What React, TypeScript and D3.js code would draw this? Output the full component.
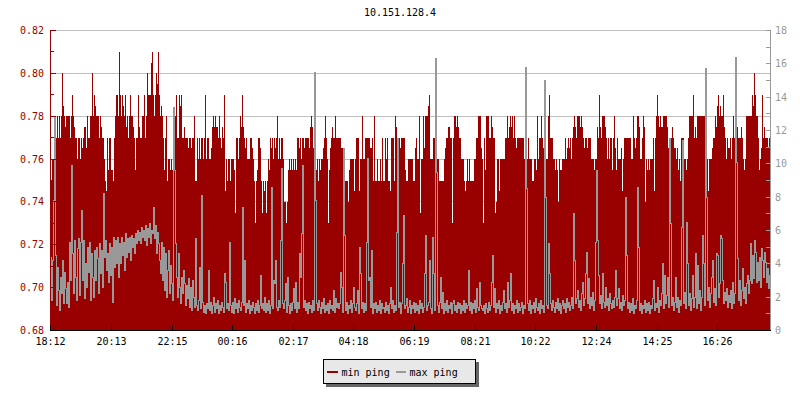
import React from 'react';
import * as d3 from 'd3';

const chartTitle = '10.151.128.4';
const seriesNames = ['min ping', 'max ping'];
const startClock = '18:12';
const stepMinutes = 2;
const xTickLabels = ['18:12', '20:13', '22:15', '00:16', '02:17', '04:18', '06:19', '08:21', '10:22', '12:24', '14:25', '16:26'];
const leftDomain = [0.68, 0.82];
const rightDomain = [0, 18];

// min ping, in hundredths (77 = 0.77), one sample every 2 minutes
const minPingHundredths = [
  75,75,76,76,76.5,76.5,77,78,77,78,77,78,80,78.5,78,77.5,78,78,78,78,
  77,78,79,78,77.5,77,77,76,77,77,76,77,76.5,77,77.5,77.5,76.5,78,77,77,
  78,78,80,78,79,78.5,78,78,78,77,78,77.5,77,77,76,75,74.5,77,75.5,77,
  77,75.5,75.5,75,77,78,79,79,78,81,79,78,79,78.5,78,79,77.5,78,77,78,
  79,78,78,77.5,77,75.5,77,77,79,77.5,77,77,78,78,79,77,78,80,79,79,
  79,80.5,81,79,78,79,80,79.5,81,79,78,78.5,78,77,75.5,77,78,75,76,76,
  75.5,76,75.5,76,77,78,79,77,77,79,78.5,79,77,77,77.5,77,77,77,76.5,77,
  77,76.5,77,77,
  78,75,75,77,76,77,76,77,77,76,77,79,76,77,77,76,76,76.5,77.5,78,
  77.5,78,77.5,77.5,77,78,77,76.5,77.5,77,79,74.5,76,75,76,76,75,76,76,76,
  75.5,73.5,77,77,76,77,78,77.5,79,77.5,77,76.5,77,76,76,76,77,77,76.5,76,
  75,73,75,75.5,77,77,76.5,75,73.5,75,74.5,75,73.5,75,76,75.5,77,76.5,77,76,
  77,76.5,77,78,76,77,76,77,77,76,74,74,73,74,75.5,76,75.5,76,75.5,76,
  75.5,76,75.5,77,77,76.5,77,76,77,77,76.5,77,77,77,77,76.5,77.5,78,77.5,76.5,
  75,75,75.5,76,75,76,75.5,76,76,76.5,77,78,77,76,73,75.5,76.5,77,77.5,77,
  77,78,77,77,
  77,77,77,76.5,76.5,76,76,75,75,75,74,75.5,76,76,76,76,74.5,76,77,77,
  77,74.5,76,76,78,76,76,77,77,77,77,77,76.5,76.5,77,75,78,75,75,76,
  75,75,76,75,77,75,75,77,76,77,75,75,74.5,77,77,77,75,78,77.5,75,
  76.5,77,76.5,77,77,77,77,75.5,75,75,76,76,76,76,76,75,75,76.5,77,76,
  76,78,73.5,76,76,78,76.5,78,78,78,78.5,79,76,76,76,77,77,77,76,76,
  76,75,75,75,75,75,76,76.5,77,77,77.5,77.5,77,77,73,77,78,78,77.5,78,
  77.5,77,77,76,76,76,75,74.5,75,76,75,76,75,75,75,75,76,76,77,77,
  78,78,78,76.5,
  76,73,77,75.5,78,78,78,77,77,78,77.5,77,77,73.5,74,76,76,74.5,76,76,
  76,76,76,77,77,78,77,77.5,78,77.5,78,77,78,77,76.5,77,77,77,77,77,
  77,77,76,77,76,76,77,76,76,76,75,75,76,76,75.5,78,76,77,77,78,
  77,76.5,76,75,76,76,78,79,77,77,77,76,76,75.5,76,75.5,74,76,75.5,75.5,
  76,76,76,77,76,76.5,77,76.5,77,76,77,77.5,78,77.5,77,78,78,78,77.5,78,
  77.5,77,76.5,77,77,76.5,77,77,77,76,76,76,75.5,76,76,77.5,77,79,77.5,77,
  78,78,78,77.5,77,76,77,76,77,77,75.5,77,78,76.5,75.5,77,76,76,76,76.5,
  74.5,76,77,77,
  77,77,77,77,77,76,76,78,77,76.5,77,78,78,77.5,76,76,77,78,77.5,74,
  76,75.5,76,75.5,76,76,76,77,74.5,77,78,79,78,77.5,78,77.5,77.5,78,78,78,
  78,77.5,76.5,75,76,77,77.5,77,76.5,76.5,76,76.5,75.5,76,75,77,77,77,76,76,
  75.5,76,77,78,78,78,78,79,77,77.5,77,78,78,78,78,78,78,78,78,76,
  74.5,76,74.5,76,76,76,76.5,77,77,78,77.5,78.5,79,78,78.5,78,78,79,77.5,77,
  76,77,76.5,76.5,77,76,77,78,77,78,78,77.5,77,77,77,77.5,77,76,75.5,76,
  78,78,78,78,78,78,79,78.5,80,79,78,78,77,75.5,76,76.5,79,77,77.5,77,
  77,77,76.5,77,
];

// max ping, one sample every 2 minutes
const maxPing = [
  4.4,1.8,4.2,7.8,12.8,4.5,1.5,3.8,2.4,1.2,3.2,2.2,4.2,1.6,3.5,2.5,1.6,2.9,1.4,5.3,
  3.0,9.9,4.6,2.2,5.4,3.2,1.8,4.9,5.5,2.1,5.3,7.2,3.0,5.4,1.9,4.0,2.6,5.0,3.5,5.3,
  1.8,4.6,3.2,2.0,4.8,3.0,5.0,4.3,2.2,5.2,3.4,4.8,2.6,8.2,4.4,5.4,3.6,4.6,2.9,5.2,
  3.3,5.0,1.7,5.6,3.8,5.4,4.0,5.6,3.2,5.2,4.0,5.6,4.5,5.3,3.6,5.8,4.4,5.5,4.7,5.6,
  4.2,5.7,5.0,5.5,4.6,5.8,5.2,6.0,5.4,5.9,5.2,6.2,5.6,6.0,5.4,6.3,5.1,6.1,5.6,6.4,
  5.2,6.0,5.8,7.4,5.5,6.3,4.6,5.9,5.2,4.2,3.4,5.3,3.0,5.0,2.4,4.6,2.0,3.6,4.8,2.2,
  3.9,2.8,1.8,13.4,9.6,5.2,3.2,2.0,4.6,2.6,1.6,3.2,2.2,3.6,2.8,1.5,2.7,1.9,3.1,1.4,
  2.6,1.2,3.0,2.0,
  1.4,5.5,1.5,1.2,1.8,3.8,1.3,8.1,1.7,1.1,1.5,1.0,1.6,1.3,3.6,1.2,1.7,1.0,1.5,2.0,
  1.1,1.6,1.3,1.8,1.0,1.5,1.2,1.7,1.4,1.1,3.4,2.9,1.3,1.6,1.2,5.3,1.5,1.1,1.7,1.0,
  1.9,1.3,1.6,1.1,1.8,1.4,1.2,1.7,7.4,1.5,4.2,1.1,1.6,1.3,1.8,1.0,1.5,1.2,1.7,1.4,
  1.0,1.6,1.2,1.8,1.1,1.5,3.3,1.3,1.6,1.2,2.0,1.1,1.6,1.2,1.8,1.0,1.5,8.6,1.3,3.0,
  2.8,4.2,1.4,1.2,1.8,1.4,5.4,9.7,1.6,1.3,1.8,2.8,1.1,3.2,1.5,1.0,1.6,1.2,1.7,2.5,
  1.3,2.9,1.1,1.7,1.3,4.6,3.2,5.8,9.9,1.4,1.8,1.2,1.6,1.0,1.7,1.3,1.5,1.1,1.8,1.2,
  15.5,7.8,1.6,1.2,1.8,1.4,1.0,1.7,1.3,1.9,1.1,1.5,1.2,1.6,1.0,1.8,1.3,1.5,1.2,2.4,
  1.1,1.9,1.4,1.6,
  1.3,1.6,3.5,2.6,1.1,10.9,5.7,1.2,1.7,1.0,1.5,1.3,1.8,1.1,1.6,2.6,1.4,1.2,1.6,2.4,
  1.0,5.0,3.4,1.3,1.7,1.1,1.6,1.2,5.3,10.3,3.0,3.2,1.4,4.8,1.0,1.6,1.3,1.7,1.1,1.5,
  1.2,1.8,1.0,1.6,1.3,1.4,1.1,1.7,1.2,1.5,1.0,1.6,2.6,1.3,1.8,1.1,1.5,1.2,5.9,11.5,
  1.4,1.7,1.0,1.6,4.0,6.9,1.3,1.5,1.9,1.1,1.4,1.8,1.0,1.5,1.3,1.7,1.1,1.6,1.2,1.5,
  1.0,1.8,1.3,1.6,1.1,1.4,3.4,5.7,1.2,1.5,1.7,4.2,1.3,1.0,5.6,3.4,1.2,16.3,9.5,1.5,
  1.1,1.7,3.2,1.3,2.3,1.0,1.6,1.2,1.8,1.1,1.5,1.3,1.7,1.0,1.6,1.8,1.2,1.5,1.1,1.7,
  1.3,1.6,1.0,1.5,1.2,1.8,1.1,1.6,1.3,1.5,3.6,1.2,1.7,1.0,1.6,1.3,1.8,1.1,2.5,1.4,
  1.2,2.9,1.5,1.3,
  1.2,1.5,1.0,1.6,1.3,1.1,1.7,1.2,1.5,2.9,4.5,1.4,2.5,1.1,1.6,1.3,1.8,1.0,1.5,1.2,
  1.7,2.4,1.3,1.6,1.1,2.9,1.4,1.8,3.4,1.2,1.6,1.0,1.5,1.3,1.8,1.1,1.6,1.2,1.4,1.7,
  1.0,1.5,1.3,15.8,8.5,1.6,1.2,1.8,1.0,1.5,1.3,1.7,1.1,1.9,1.4,1.2,1.6,1.0,1.8,1.3,
  1.5,1.1,15.0,8.0,1.5,1.3,5.2,3.4,1.6,1.2,1.8,1.4,1.1,1.7,1.3,1.9,1.2,1.6,1.0,1.5,
  1.8,1.3,1.6,1.1,1.9,1.4,1.7,1.2,1.5,2.0,1.3,7.0,4.2,1.6,1.9,2.4,1.4,1.8,1.2,2.2,
  2.9,1.5,1.9,3.4,4.7,1.6,3.1,1.3,2.0,1.5,2.3,1.2,1.8,5.3,9.6,5.4,3.3,1.6,2.1,1.3,
  3.4,1.7,1.4,2.6,1.5,1.9,1.2,2.2,1.6,1.3,1.8,1.4,2.0,3.6,1.5,1.9,2.5,1.3,1.7,1.2,
  2.1,1.5,1.8,8.0,
  4.5,1.3,1.7,1.1,1.6,1.2,1.9,1.0,1.5,1.3,1.8,8.6,5.0,1.2,1.6,1.0,1.5,1.3,1.8,1.1,
  1.6,1.2,1.7,1.0,1.5,1.3,1.9,3.0,1.2,1.6,1.4,2.6,1.1,1.8,1.5,2.2,4.0,1.3,3.3,1.6,
  2.1,3.2,1.4,11.5,6.4,1.5,2.0,1.2,1.7,3.2,1.4,2.0,1.1,1.8,1.5,6.2,11.4,1.6,2.3,1.3,
  6.5,4.0,1.5,2.2,1.2,1.9,3.3,1.4,2.0,4.6,1.3,3.9,1.6,2.4,1.2,2.0,5.7,4.0,1.5,15.7,
  8.0,1.8,2.6,1.4,2.2,3.2,4.2,1.7,2.5,1.5,4.6,4.5,2.0,2.8,5.7,5.5,3.0,1.6,2.3,1.8,
  2.5,1.4,2.1,1.7,2.4,1.3,2.9,1.6,2.2,16.4,10.1,4.3,1.8,3.0,1.5,2.4,3.7,1.9,2.6,1.6,
  2.8,3.3,2.2,3.0,5.2,2.8,4.5,3.1,5.4,4.7,2.9,4.1,3.0,4.4,2.6,4.9,4.2,3.2,4.7,4.1,
  2.9,3.7,2.5,3.3,
];

const RED = '#990000';
const GRAY = '#999999';
const GRID = '#c0c0c0';
const FONT = '"DejaVu Sans Mono", monospace';

type Pt = { t: Date; v: number };

function clockToMinutes(s: string) {
  const [h, m] = s.split(':').map(Number);
  return h * 60 + m;
}

export default function App() {
  const L = 50, R = 770, T = 30.5, B = 330.5;
  const [sh, sm] = startClock.split(':').map(Number);
  const t0 = new Date(2020, 0, 1, sh, sm);
  const t1 = new Date(t0.getTime() + 1440 * 60000);
  const x = d3.scaleTime().domain([t0, t1]).range([L, R]);
  const yL = d3.scaleLinear().domain(leftDomain).range([B, T]);
  const yR = d3.scaleLinear().domain(rightDomain).range([B, T]);

  const minData: Pt[] = minPingHundredths.map((v, i) => ({ t: new Date(t0.getTime() + i * stepMinutes * 60000), v: v / 100 }));
  const maxData: Pt[] = maxPing.map((v, i) => ({ t: new Date(t0.getTime() + i * stepMinutes * 60000), v }));
  const minExt = [...minData, { t: new Date(minData[minData.length - 1].t.getTime() + stepMinutes * 60000), v: minData[minData.length - 1].v }];
  const maxExt = [...maxData, { t: new Date(maxData[maxData.length - 1].t.getTime() + stepMinutes * 60000), v: maxData[maxData.length - 1].v }];

  const area = d3.area<Pt>().x(d => x(d.t)).y0(330).y1(d => yL(d.v)).curve(d3.curveStepAfter);
  const line = d3.line<Pt>().x(d => x(d.t) + 0.5).y(d => yR(d.v)).curve(d3.curveStepAfter);

  const startMin = clockToMinutes(startClock);
  const xTicks = xTickLabels.map(lbl => {
    const off = (clockToMinutes(lbl) - startMin + 1440) % 1440;
    return { lbl, px: Math.round(x(new Date(t0.getTime() + off * 60000))) + 0.5 };
  });

  const leftMajor = d3.range(0, 8).map(i => +(leftDomain[0] + i * 0.02).toFixed(2));
  const leftMinor = d3.range(0, 7).map(i => +(leftDomain[0] + 0.01 + i * 0.02).toFixed(2));
  const rightTicks = d3.range(rightDomain[0], rightDomain[1] + 1);
  const snap = (v: number) => Math.floor(v) + 0.5;

  return (
    <svg width={800} height={400} style={{ position: 'absolute', left: 0, top: 0, background: '#fff' }} fontFamily={FONT}>
      <rect x={0} y={0} width={800} height={400} fill="#fff" />
      <text x={400} y={16} textAnchor="middle" fontSize={10} fill="#000">{chartTitle}</text>
      {leftMajor.map(v => (
        <line key={'g' + v} x1={L} x2={R} y1={snap(yL(v))} y2={snap(yL(v))} stroke={GRID} strokeWidth={1} />
      ))}
      <path d={area(minExt) || ''} fill={RED} shapeRendering="crispEdges" />
      <path d={line(maxExt) || ''} fill="none" stroke={GRAY} strokeWidth={1} shapeRendering="crispEdges" />
      {/* left axis */}
      <line x1={L + 0.5} x2={L + 0.5} y1={30} y2={331} stroke={RED} />
      {leftMajor.map(v => (
        <g key={'lm' + v}>
          <line x1={L} x2={L + 6} y1={snap(yL(v))} y2={snap(yL(v))} stroke={RED} />
          <text x={44} y={yL(v)} dy="0.35em" textAnchor="end" fontSize={10} fill={RED}>{v.toFixed(2)}</text>
        </g>
      ))}
      {leftMinor.map(v => (
        <line key={'ln' + v} x1={L} x2={L + 4} y1={snap(yL(v))} y2={snap(yL(v))} stroke={RED} />
      ))}
      {/* right axis */}
      <line x1={R + 0.5} x2={R + 0.5} y1={30} y2={331} stroke={GRAY} />
      {rightTicks.map(v => (
        <g key={'r' + v}>
          <line x1={R - 4} x2={R + 1} y1={snap(yR(v))} y2={snap(yR(v))} stroke={GRAY} />
          {v % 2 === 0 && (
            <text x={775} y={yR(v)} dy="0.35em" textAnchor="start" fontSize={10} fill={GRAY}>{v}</text>
          )}
        </g>
      ))}
      {/* bottom axis */}
      <line x1={L} x2={R + 1} y1={330.5} y2={330.5} stroke="#000" />
      {xTicks.map(d => (
        <g key={d.lbl}>
          <line x1={d.px} x2={d.px} y1={325} y2={331} stroke="#000" />
          <text x={d.px} y={345} textAnchor="middle" fontSize={10} fill="#000">{d.lbl}</text>
        </g>
      ))}
      {/* legend */}
      <rect x={326} y={362} width={153} height={25} fill="#666" />
      <rect x={323.5} y={359.5} width={152} height={24} fill="#e8e8e8" stroke="#000" />
      <line x1={327} x2={338} y1={372} y2={372} stroke={RED} strokeWidth={2} />
      <text x={341.5} y={375.5} fontSize={10} fill="#000">{seriesNames[0]}</text>
      <line x1={396} x2={406} y1={372} y2={372} stroke={GRAY} strokeWidth={2} />
      <text x={409.5} y={375.5} fontSize={10} fill="#000">{seriesNames[1]}</text>
    </svg>
  );
}
